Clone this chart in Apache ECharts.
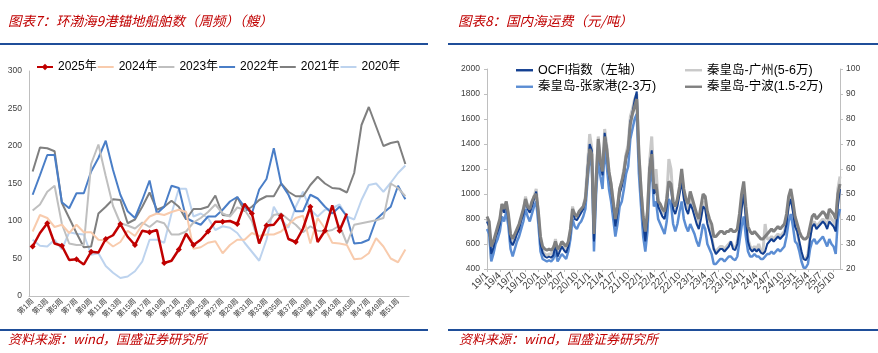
<!DOCTYPE html>
<html><head><meta charset="utf-8">
<script src="https://cdn.jsdelivr.net/npm/echarts@6/dist/echarts.min.js"></script>
<style>html,body{margin:0;padding:0;background:#fff}#c{width:878px;height:353px}</style>
</head><body><div id="c"></div>
<script>
// ---------- Left chart: 环渤海9港锚地船舶数 ----------
const weekNames = [];
for (let i = 1; i <= 52; i++) weekNames.push('第' + i + '周');
const y2025 = [66,84,97,70,67,48,49,42,59,58,76,81,96,79,68,87,85,88,44,47,62,83,68,75,86,99,99,100,96,123,110,70,94,95,107,76,72,90,119,72,87,121,87,110];
const y2024 = [86,108,104,92,95,84,95,85,85,75,74,66,72,87,80,95,106,110,108,112,115,112,63,65,71,73,57,68,75,75,84,80,82,82,86,95,104,107,70,104,90,71,70,68,49,50,57,77,66,50,45,62];
const y2023 = [114,122,139,147,96,70,68,68,176,202,160,120,97,94,90,98,92,100,97,82,82,86,98,104,112,122,110,106,118,115,100,70,96,108,110,102,95,85,93,87,86,88,94,70,95,97,99,101,104,150,144,133];
const y2022 = [135,161,188,188,125,117,137,137,166,184,207,168,135,113,104,128,154,110,119,147,144,104,99,95,106,106,115,126,132,119,110,142,156,197,150,135,113,113,135,130,119,110,119,106,70,71,75,102,111,119,147,129];
const y2021 = [166,198,197,193,124,104,84,65,66,110,119,129,128,97,102,119,138,115,119,127,119,102,116,116,119,134,108,107,132,113,119,128,133,133,150,139,133,133,148,159,150,144,143,138,164,228,252,226,200,204,206,176];
const y2020 = [75,67,66,75,62,85,83,82,55,57,40,31,24,26,33,46,75,75,71,110,143,143,106,110,104,88,93,91,84,71,59,47,75,119,102,91,119,139,115,106,115,117,122,106,102,128,148,150,139,151,164,174];

// ---------- Right chart: 国内海运费 (semi-monthly, 2019/1 - 2025/11) ----------
const dates = [];
for (let y = 2019; y <= 2025; y++) {
  for (let m = 1; m <= 12; m++) {
    if (y === 2025 && m > 11) break;
    dates.push(y + '-' + m + '-a', y + '-' + m + '-b');
  }
}
const ocfi = [
  780,740,520,570,650,700,760,900,850,930,800,620,590,630,680,720,790,840,950,880,850,900,960,1020,
  820,600,530,500,490,500,490,510,590,500,540,580,550,530,580,690,870,800,790,820,850,880,950,1200,
  1400,1350,620,1100,1420,1250,1150,1490,1350,1150,1050,900,740,850,1000,1060,1150,1280,1350,1580,1650,1750,1820,1300,
  1000,760,620,800,1200,1350,1000,1050,900,860,820,800,900,1100,1050,880,840,900,1000,1100,960,880,840,920,
  880,820,760,720,800,900,880,760,700,640,560,520,540,560,560,540,560,580,620,560,550,600,720,880,
  1000,800,620,560,540,560,540,560,530,520,540,600,620,640,620,640,660,640,660,680,760,900,960,860,
  740,700,620,540,480,470,500,640,740,760,720,740,760,780,760,720,780,760,740,700,900,1040
];
const ningbo = [
  41,39,29,31,34,37,40,46,44,47,42,34,32,34,36,38,41,44,48,45,44,47,49,50,
  43,33,29,28,27.5,28,27.5,28.5,31,28,29,31,30,29,31,36,44,42,41,43,44,45,48,58,
  68,66,34,56,72,63,59,73,68,59,54,47,40,45,52,55,59,65,68,78,82,85,88,66,
  52,41,35,43,60,66,52,54,47,46,44,43,48,55,54,47,45,48,53,60,52,48,46,51,
  48,45,42,40,45,50,49,43,40,38,33,33,34,35,35,34,35,35,36,35,35,36,42,50,
  55,45,37,35,34,35,34,33,32,32,33,34,35,36,35,36,37,36,37,38,42,49,52,47,
  41,38,35,33,32,32,33,37,41,42,40,41,42,43,42,40,44,43,42,40,50,54
];
const guangzhou = [
  40,37,24,29,33,35,39,46,43,47,41,32,30,32,35,37,40,43,49,45,43,46,49,52,
  42,31,27,26,25.5,26,26,27,32,27,29,31,28,27,30,35,45,41,40,42,43,45,49,62,
  74,68,32,56,73,64,59,76,69,59,54,46,38,44,52,55,60,66,70,81,84,88,90,67,
  52,40,33,42,63,73,54,60,48,45,43,42,48,64,60,47,44,47,52,58,50,46,44,48,
  46,43,40,37,42,47,46,40,36,33,28,27,28,29,29,28,29,30,31,29,28,31,37,45,
  52,41,32,29,28,29,28,30,27,27,38,32,32,33,32,33,34,33,34,35,39,46,49,44,
  38,35,30,26,24,24,26,33,38,39,37,38,39,40,39,37,42,40,39,37,52,57
];
const zhangjiagang = [
  36,34,23,26,30,32,35,41,39,43,37,28,25,28,31,33,36,39,44,41,39,42,45,47,
  38,27,24,23.5,23,23.5,23,24,27,23,24.5,26,25,24,27,32,40,37,36,38,39,41,44,55,
  65,61,27,50,64,57,52,68,61,52,47,40,33,38,45,47,52,58,61,72,76,80,82,58,
  45,33,27,35,54,61,45,47,40,38,36,34,39,48,46,38,35,38,43,47,40,37,35,38,
  36,34,31,29,33,38,36,30,28,26,22,22,23,24,24,23,24,25,25,24,23.5,25,31,37,
  41,33,27,25,25,26,25,25,24,24,25,26,26,27,26,27,28,27,28,29,33,39,42,37,
  31,30,27,23,20.5,20.5,22,28,31,32,30,31,32,33,31,29,32,30,29,26,40,44
];

const FONT = 'Liberation Sans, "Noto Sans CJK SC", sans-serif';
const CJK = '"Noto Sans CJK SC", sans-serif';
const RED = '#C00000';
const RULE = '#1F4E99';
const LINE16 = 'path://M0,0L0,0M0,3L16,3L16,5L0,5ZM16,8L16,8';
const LINE17 = 'path://M0,0L0,0M0,2.8L17,2.8L17,5.2L0,5.2ZM17,8L17,8';

function isQuarterStart(v) {
  const p = String(v).split('-');
  return p[2] === 'a' && (Number(p[1]) % 3 === 1);
}

const chart = echarts.init(document.getElementById('c'), null, {renderer: 'canvas'});
const option = {
  animation: false,
  backgroundColor: '#fff',
  textStyle: {fontFamily: FONT},
  graphic: [
    {type: 'text', left: 8, top: 14, style: {text: '图表7：环渤海9港锚地船舶数（周频）（艘）', fill: RED, fontSize: 13.5, fontStyle: 'italic', fontFamily: CJK}},
    {type: 'text', left: 458, top: 14, style: {text: '图表8：国内海运费（元/吨）', fill: RED, fontSize: 13.5, fontStyle: 'italic', fontFamily: CJK}},
    {type: 'line', shape: {x1: 0, y1: 44, x2: 428, y2: 44}, style: {stroke: RULE, lineWidth: 2}},
    {type: 'line', shape: {x1: 448, y1: 44, x2: 878, y2: 44}, style: {stroke: RULE, lineWidth: 2}},
    {type: 'line', shape: {x1: 0, y1: 330, x2: 428, y2: 330}, style: {stroke: RULE, lineWidth: 2}},
    {type: 'line', shape: {x1: 448, y1: 330, x2: 878, y2: 330}, style: {stroke: RULE, lineWidth: 2}},
    {type: 'text', left: 8, top: 333, style: {text: '资料来源：wind，国盛证券研究所', fill: RED, fontSize: 13, fontStyle: 'italic', fontFamily: CJK}},
    {type: 'text', left: 459, top: 333, style: {text: '资料来源：wind，国盛证券研究所', fill: RED, fontSize: 13, fontStyle: 'italic', fontFamily: CJK}}
  ],
  legend: [
    {data: [
        {name: '2025年'},
        {name: '2024年', icon: LINE16}, {name: '2023年', icon: LINE16}, {name: '2022年', icon: LINE16},
        {name: '2021年', icon: LINE16}, {name: '2020年', icon: LINE16}],
     left: 31, top: 56, itemWidth: 16, itemHeight: 8, itemGap: 1,
     itemStyle: {borderWidth: 0},
     textStyle: {fontSize: 12, color: '#000', fontFamily: FONT}},
    {data: [{name: 'OCFI指数（左轴）', icon: LINE17}, {name: '秦皇岛-张家港(2-3万)', icon: LINE17}],
     orient: 'vertical', left: 511, top: 59, itemWidth: 17, itemHeight: 8, itemGap: 4,
     itemStyle: {borderWidth: 0},
     textStyle: {fontSize: 12.5, color: '#000', fontFamily: FONT}},
    {data: [{name: '秦皇岛-广州(5-6万)', icon: LINE17}, {name: '秦皇岛-宁波(1.5-2万)', icon: LINE17}],
     orient: 'vertical', left: 680, top: 59, itemWidth: 17, itemHeight: 8, itemGap: 4,
     itemStyle: {borderWidth: 0},
     textStyle: {fontSize: 12.5, color: '#000', fontFamily: FONT}}
  ],
  grid: [
    {left: 29, right: 469, top: 71, bottom: 57},
    {left: 487, right: 38, top: 69, bottom: 84}
  ],
  xAxis: [
    {type: 'category', gridIndex: 0, data: weekNames, boundaryGap: true,
     axisLine: {lineStyle: {color: '#BFBFBF'}}, axisTick: {show: false},
     axisLabel: {interval: 1, rotate: 45, fontSize: 7.5, color: '#404040', margin: 4}},
    {type: 'category', gridIndex: 1, data: dates, boundaryGap: false,
     axisLine: {lineStyle: {color: '#BFBFBF'}},
     axisTick: {show: true, interval: (i, v) => isQuarterStart(v), length: 3, lineStyle: {color: '#BFBFBF'}},
     axisLabel: {interval: 0, rotate: 45, fontSize: 10, color: '#404040', margin: 5,
       showMinLabel: true, showMaxLabel: true,
       formatter: v => { if (!isQuarterStart(v)) return ''; const p = v.split('-'); return p[0].slice(2) + '/' + Number(p[1]); }}}
  ],
  yAxis: [
    {type: 'value', gridIndex: 0, min: 0, max: 300, interval: 50,
     axisLine: {show: true, lineStyle: {color: '#BFBFBF'}}, axisTick: {show: false}, splitLine: {show: false},
     axisLabel: {fontSize: 8.5, color: '#404040', margin: 7}},
    {type: 'value', gridIndex: 1, min: 400, max: 2000, interval: 200,
     axisLine: {show: true, lineStyle: {color: '#BFBFBF'}}, axisTick: {show: true, length: 3, lineStyle: {color: '#BFBFBF'}}, splitLine: {show: false},
     axisLabel: {fontSize: 8.5, color: '#404040', margin: 7, formatter: v => String(v)}},
    {type: 'value', gridIndex: 1, position: 'right', min: 20, max: 100, interval: 10,
     axisLine: {show: true, lineStyle: {color: '#BFBFBF'}}, axisTick: {show: true, length: 3, lineStyle: {color: '#BFBFBF'}}, splitLine: {show: false},
     axisLabel: {fontSize: 8.5, color: '#404040', margin: 6, formatter: v => String(v)}}
  ],
  series: [
    {name: '2020年', type: 'line', xAxisIndex: 0, yAxisIndex: 0, data: y2020, symbol: 'none', lineStyle: {color: '#BDD3EE', width: 2}, itemStyle: {color: '#BDD3EE'}},
    {name: '2021年', type: 'line', xAxisIndex: 0, yAxisIndex: 0, data: y2021, symbol: 'none', lineStyle: {color: '#7F7F7F', width: 2}, itemStyle: {color: '#7F7F7F'}},
    {name: '2022年', type: 'line', xAxisIndex: 0, yAxisIndex: 0, data: y2022, symbol: 'none', lineStyle: {color: '#4A7EC7', width: 2}, itemStyle: {color: '#4A7EC7'}},
    {name: '2023年', type: 'line', xAxisIndex: 0, yAxisIndex: 0, data: y2023, symbol: 'none', lineStyle: {color: '#BFBFBF', width: 2}, itemStyle: {color: '#BFBFBF'}},
    {name: '2024年', type: 'line', xAxisIndex: 0, yAxisIndex: 0, data: y2024, symbol: 'none', lineStyle: {color: '#F8CBAD', width: 2}, itemStyle: {color: '#F8CBAD'}},
    {name: '2025年', type: 'line', xAxisIndex: 0, yAxisIndex: 0, data: y2025, symbol: 'diamond', symbolSize: 6, lineStyle: {color: RED, width: 2.5}, itemStyle: {color: RED}},

    {name: '秦皇岛-广州(5-6万)', type: 'line', xAxisIndex: 1, yAxisIndex: 2, data: guangzhou, symbol: 'none', lineStyle: {color: '#C9C9C9', width: 3}, itemStyle: {color: '#C9C9C9'}},
    {name: '秦皇岛-张家港(2-3万)', type: 'line', xAxisIndex: 1, yAxisIndex: 2, data: zhangjiagang, symbol: 'none', lineStyle: {color: '#5B8DD3', width: 2.5}, itemStyle: {color: '#5B8DD3'}},
    {name: 'OCFI指数（左轴）', type: 'line', xAxisIndex: 1, yAxisIndex: 1, data: ocfi, symbol: 'none', lineStyle: {color: '#123F91', width: 2}, itemStyle: {color: '#123F91'}},
    {name: '秦皇岛-宁波(1.5-2万)', type: 'line', xAxisIndex: 1, yAxisIndex: 2, data: ningbo, symbol: 'none', lineStyle: {color: '#808080', width: 3}, itemStyle: {color: '#808080'}}
  ]
};
chart.setOption(option);
</script></body></html>
